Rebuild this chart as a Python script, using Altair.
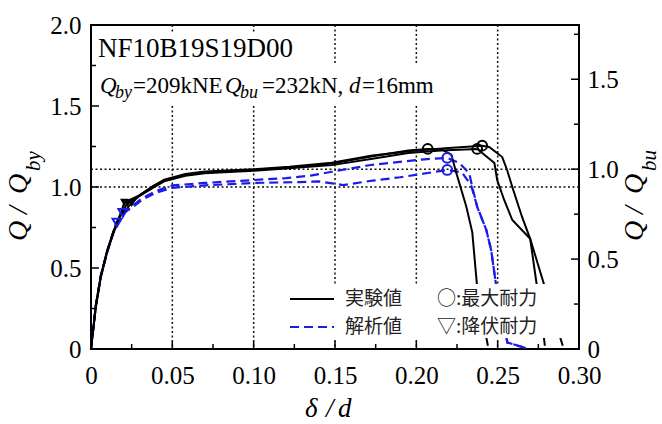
import altair as alt
import pandas as pd

# ---------------- data ----------------
QBY = 209
QBU = 232

BLACK_A_X = [0, 0.003, 0.006, 0.010, 0.014, 0.018, 0.0205, 0.030, 0.039, 0.045, 0.058, 0.070, 0.100, 0.122, 0.148, 0.173, 0.195, 0.207, 0.215, 0.2215, 0.2245, 0.2307, 0.2344, 0.2374, 0.2405, 0.2440]
BLACK_A_Y = [0, 0.27, 0.45, 0.61, 0.73, 0.83, 0.905, 0.95, 1.01, 1.04, 1.075, 1.09, 1.105, 1.12, 1.145, 1.19, 1.225, 1.235, 1.235, 1.20, 1.09, 0.88, 0.72, 0.38, 0.20, 0.02]

BLACK_B_X = [0, 0.003, 0.006, 0.010, 0.014, 0.018, 0.0225, 0.030, 0.039, 0.045, 0.058, 0.070, 0.100, 0.122, 0.148, 0.173, 0.195, 0.215, 0.2374, 0.2405, 0.248, 0.2497, 0.254, 0.259, 0.270, 0.279, 0.2845, 0.290]
BLACK_B_Y = [0, 0.27, 0.45, 0.61, 0.73, 0.83, 0.90, 0.945, 1.00, 1.035, 1.07, 1.085, 1.10, 1.115, 1.135, 1.175, 1.21, 1.225, 1.235, 1.21, 1.148, 1.043, 0.92, 0.796, 0.68, 0.383, 0.20, 0.02]

BLACK_C_X = [0, 0.003, 0.006, 0.010, 0.014, 0.018, 0.025, 0.030, 0.039, 0.045, 0.058, 0.070, 0.100, 0.122, 0.148, 0.173, 0.200, 0.220, 0.2405, 0.2448, 0.2528, 0.2558, 0.259, 0.265, 0.270, 0.2742, 0.277, 0.279]
BLACK_C_Y = [0, 0.26, 0.44, 0.60, 0.72, 0.82, 0.90, 0.95, 1.01, 1.045, 1.08, 1.095, 1.11, 1.125, 1.15, 1.195, 1.225, 1.24, 1.255, 1.247, 1.185, 1.105, 1.00, 0.815, 0.68, 0.383, 0.20, 0.02]

BLUE_1_X = [0, 0.003, 0.006, 0.010, 0.013, 0.0155, 0.0195, 0.025, 0.030, 0.035, 0.040, 0.050, 0.070, 0.100, 0.120, 0.135, 0.148, 0.172, 0.205, 0.219, 0.2264, 0.2325, 0.2344, 0.2374, 0.243, 0.246, 0.249, 0.2525, 0.256, 0.2675]
BLUE_1_Y = [0, 0.27, 0.45, 0.60, 0.70, 0.78, 0.83, 0.88, 0.92, 0.95, 0.975, 1.01, 1.025, 1.043, 1.055, 1.07, 1.094, 1.136, 1.171, 1.18, 1.148, 1.086, 1.00, 0.877, 0.735, 0.611, 0.395, 0.20, 0.04, 0.005]

BLUE_2_X = [0, 0.003, 0.006, 0.010, 0.013, 0.0155, 0.0195, 0.025, 0.030, 0.035, 0.040, 0.050, 0.070, 0.100, 0.128, 0.140, 0.155, 0.173, 0.190, 0.206, 0.219, 0.228, 0.2337, 0.2374, 0.243, 0.246, 0.249, 0.2525, 0.256, 0.2675]
BLUE_2_Y = [0, 0.27, 0.45, 0.60, 0.70, 0.77, 0.84, 0.87, 0.91, 0.94, 0.965, 0.995, 1.01, 1.025, 1.03, 1.035, 1.012, 1.039, 1.06, 1.085, 1.105, 1.09, 1.01, 0.88, 0.735, 0.611, 0.395, 0.20, 0.04, 0.005]

BLACK_MAX_X = [0.207, 0.2374, 0.2405]
BLACK_MAX_Y = [1.235, 1.235, 1.255]
BLUE_MAX_X = [0.219, 0.219]
BLUE_MAX_Y = [1.18, 1.105]
BLACK_YLD_X = [0.0205, 0.0225, 0.025]
BLACK_YLD_Y = [0.905, 0.90, 0.90]
BLUE_YLD_X = [0.016, 0.0196]
BLUE_YLD_Y = [0.78, 0.84]

X_LABELS = [0, 0.05, 0.10, 0.15, 0.20, 0.25, 0.30]
X_MINOR = [0.025, 0.075, 0.125, 0.175, 0.225, 0.275]
X_GRID = [0.05, 0.10, 0.15, 0.20, 0.25]
Y_LABELS = [0, 0.5, 1.0, 1.5, 2.0]
Y_MINOR = [0.25, 0.75, 1.25, 1.75]
Y2_LABELS = [0, 0.5, 1.0, 1.5]
Y2_MINOR = [0.25, 0.75, 1.25, 1.75]

ANNOT_1 = "NF10B19S19D00"
LEG_EXP = "実験値"
LEG_ANA = "解析値"
LEG_MAX = "○:最大耐力"
LEG_YLD = "▽:降伏耐力"

# ---------------- layout ----------------
W, H = 488, 324
SERIF = "Liberation Serif"
CJK = "Noto Sans CJK JP"
BLUE = "#1c1ce8"

xscale = alt.Scale(domain=[0, 0.30], nice=False, zero=False)
yscale = alt.Scale(domain=[0, 2.0], nice=False, zero=False)
y2scale = alt.Scale(domain=[0, 2.0 * QBY / QBU], nice=False, zero=False)

xaxis = alt.Axis(values=X_LABELS, labelExpr="datum.value == 0 ? '0' : format(datum.value, '.2f')",
                 ticks=False, tickSize=0, domain=False, grid=False, labelFont=SERIF, labelFontSize=25,
                 labelColor="black", labelPadding=14, labelFlush=False, labelOverlap=False, title=None)
yaxis = alt.Axis(values=Y_LABELS, labelExpr="datum.value == 0 ? '0' : format(datum.value, '.1f')",
                 ticks=False, tickSize=0, domain=False, grid=False, labelFont=SERIF, labelFontSize=25,
                 labelColor="black", labelPadding=10, labelFlush=False, labelOverlap=False, title=None)
y2axis = alt.Axis(orient="right", values=Y2_LABELS,
                  labelExpr="datum.value == 0 ? '0' : format(datum.value, '.1f')",
                  ticks=False, tickSize=0, domain=False, grid=False, labelFont=SERIF, labelFontSize=25,
                  labelColor="black", labelPadding=8, labelFlush=False, labelOverlap=False, title=None)

def X(f="x"):
    return alt.X(f + ":Q", scale=xscale, axis=xaxis)

def Y(f="y"):
    return alt.Y(f + ":Q", scale=yscale, axis=yaxis)

def curves(pairs):
    frames = []
    for name, xs, ys in pairs:
        frames.append(pd.DataFrame({"x": xs, "y": ys, "s": name, "i": list(range(len(xs)))}))
    return pd.concat(frames, ignore_index=True)

def one():
    return pd.DataFrame({"a": [0]})

def txt(items, **kw):
    df = pd.DataFrame(items, columns=["px", "py", "t"])
    return alt.Chart(df).mark_text(**kw).encode(
        x=alt.X("px:Q", scale=None, axis=None),
        y=alt.Y("py:Q", scale=None, axis=None),
        text="t:N")

def rect(x1, x2, y1, y2):
    return alt.Chart(one()).mark_rect(color="white").encode(
        x=alt.value(x1), x2=alt.value(x2), y=alt.value(y1), y2=alt.value(y2))

# grid
grid_v = alt.Chart(pd.DataFrame({"x": X_GRID})).mark_rule(
    color="#111", strokeWidth=1.5, strokeDash=[2, 2.5]).encode(x=X())
grid_h = alt.Chart(pd.DataFrame({"y": [1.0]})).mark_rule(
    color="#111", strokeWidth=1.5, strokeDash=[2, 2.5]).encode(y=Y())

# ticks (inside)
yt_major = alt.Chart(pd.DataFrame({"y": Y_LABELS})).mark_rule(color="black", strokeWidth=1.5).encode(
    y=Y(), x=alt.value(0), x2=alt.value(8))
yt_minor = alt.Chart(pd.DataFrame({"y": Y_MINOR})).mark_rule(color="black", strokeWidth=1.5).encode(
    y=Y(), x=alt.value(0), x2=alt.value(5))
xt_major = alt.Chart(pd.DataFrame({"x": X_LABELS})).mark_rule(color="black", strokeWidth=1.5).encode(
    x=X(), y=alt.value(H), y2=alt.value(H - 8))
xt_minor = alt.Chart(pd.DataFrame({"x": X_MINOR})).mark_rule(color="black", strokeWidth=1.5).encode(
    x=X(), y=alt.value(H), y2=alt.value(H - 5))

# data curves
black_df = curves([("A", BLACK_A_X, BLACK_A_Y), ("B", BLACK_B_X, BLACK_B_Y), ("C", BLACK_C_X, BLACK_C_Y)])
blue_df = curves([("1", BLUE_1_X, BLUE_1_Y), ("2", BLUE_2_X, BLUE_2_Y)])
black_lines = alt.Chart(black_df).mark_line(color="black", strokeWidth=2).encode(
    x=X(), y=Y(), detail="s:N", order="i:Q")
blue_lines = alt.Chart(blue_df).mark_line(color=BLUE, strokeWidth=2.2, strokeDash=[9, 5]).encode(
    x=X(), y=Y(), detail="s:N", order="i:Q")

black_max = alt.Chart(pd.DataFrame({"x": BLACK_MAX_X, "y": BLACK_MAX_Y})).mark_point(
    shape="circle", filled=False, color="black", size=95, strokeWidth=2, opacity=1).encode(x=X(), y=Y())
blue_max = alt.Chart(pd.DataFrame({"x": BLUE_MAX_X, "y": BLUE_MAX_Y})).mark_point(
    shape="circle", filled=False, color=BLUE, size=95, strokeWidth=2, opacity=1).encode(x=X(), y=Y())
black_yld = alt.Chart(pd.DataFrame({"x": BLACK_YLD_X, "y": BLACK_YLD_Y})).mark_point(
    shape="triangle-down", filled=True, color="black", size=75, opacity=1).encode(x=X(), y=Y())
blue_yld = alt.Chart(pd.DataFrame({"x": BLUE_YLD_X, "y": BLUE_YLD_Y})).mark_point(
    shape="triangle-down", filled=False, color=BLUE, size=80, strokeWidth=2, opacity=1).encode(x=X(), y=Y())

# legend
leg_box = rect(194, 477, 259, 313)
leg_line_k = alt.Chart(one()).mark_rule(color="black", strokeWidth=2).encode(
    x=alt.value(199), x2=alt.value(243), y=alt.value(274))
leg_line_b = alt.Chart(one()).mark_rule(color=BLUE, strokeWidth=2.2, strokeDash=[9, 5]).encode(
    x=alt.value(199), x2=alt.value(243), y=alt.value(302))
leg_text = txt([(254, 274, LEG_EXP), (254, 302, LEG_ANA), (346, 274, LEG_MAX), (346, 302, LEG_YLD)],
               font=CJK, fontSize=19, color="#222", align="left", baseline="middle")

# annotation
ann_box1 = rect(5, 212, 8, 40)
ann_box2 = rect(5, 346, 40, 80)
ann_1 = txt([(7, 32, ANNOT_1)], font=SERIF, fontSize=27, color="black", align="left", baseline="alphabetic")
ann_it = txt([(9, 68, "Q"), (134, 68, "Q"), (258, 68, "d")],
             font=SERIF, fontSize=23, fontStyle="italic", color="black", align="left", baseline="alphabetic")
ann_sub = txt([(24, 73, "by"), (149, 73, "bu")],
              font=SERIF, fontSize=18, fontStyle="italic", color="black", align="left", baseline="alphabetic")
ann_rm = txt([(42, 68, "=209kNE"), (171, 68, "=232kN,"), (271, 68, "=16mm")],
             font=SERIF, fontSize=23, color="black", align="left", baseline="alphabetic")

# axis titles
ttl_main = txt([(-64, 216, "Q"), (-64, 189, "/"), (-64, 169, "Q"), (552, 216, "Q"), (552, 189, "/"), (552, 169, "Q")],
               font=SERIF, fontSize=28, fontStyle="italic", color="black", align="left",
               baseline="alphabetic", angle=270)
ttl_sub = txt([(-51, 146, "by"), (565, 146, "bu")],
              font=SERIF, fontSize=21, fontStyle="italic", color="black", align="left",
              baseline="alphabetic", angle=270)
ttl_bottom = txt([(214, 392, "δ"), (235, 392, "/"), (247, 392, "d")],
                 font=SERIF, fontSize=27, fontStyle="italic", color="black", align="left",
                 baseline="alphabetic")

left = alt.layer(
    grid_v, grid_h, ann_box1, ann_box2, yt_major, yt_minor, xt_major, xt_minor,
    blue_lines, black_lines, black_max, blue_max, black_yld, blue_yld,
    leg_box, leg_line_k, leg_line_b, leg_text,
    ann_1, ann_it, ann_sub, ann_rm, ttl_main, ttl_sub, ttl_bottom,
)

Y2 = lambda: alt.Y("yr:Q", scale=y2scale, axis=y2axis)
qbu_rule = alt.Chart(pd.DataFrame({"yr": [1.0]})).mark_rule(
    color="#111", strokeWidth=1.5, strokeDash=[2, 2.5]).encode(y=Y2())
y2t_major = alt.Chart(pd.DataFrame({"yr": Y2_LABELS})).mark_rule(color="black", strokeWidth=1.5).encode(
    y=Y2(), x=alt.value(W), x2=alt.value(W - 8))
y2t_minor = alt.Chart(pd.DataFrame({"yr": Y2_MINOR})).mark_rule(color="black", strokeWidth=1.5).encode(
    y=Y2(), x=alt.value(W), x2=alt.value(W - 5))
right = alt.layer(qbu_rule, y2t_major, y2t_minor)

chart = alt.layer(right, left).resolve_scale(y="independent").properties(
    width=W, height=H,
    autosize=alt.AutoSizeParams(type="none"),
    padding={"left": 91, "top": 25, "right": 83, "bottom": 75},
    background="white",
).configure_view(stroke="black", strokeWidth=2)

chart.save("out.html", embed_options={"renderer": "svg", "actions": False})
